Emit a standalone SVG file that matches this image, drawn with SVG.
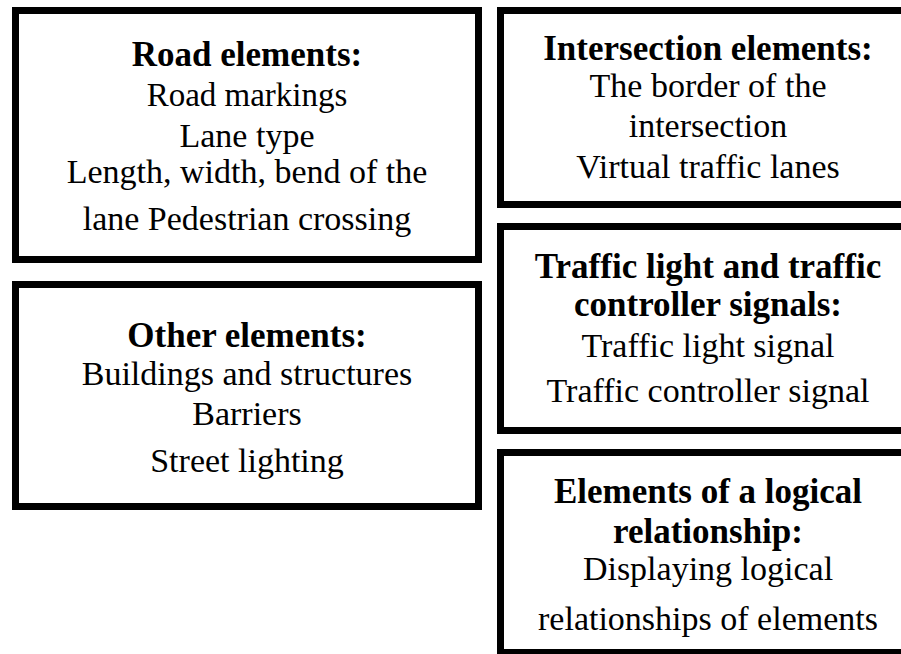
<svg xmlns="http://www.w3.org/2000/svg" width="901" height="654" viewBox="0 0 901 654">
  <style>
    .box { fill: #ffffff; stroke: #000000; stroke-width: 7; }
    text { font-family: "Liberation Serif", "Times New Roman", serif; font-size: 34px; fill: #000000; text-anchor: middle; }
    .title { font-weight: bold; font-size: 35px; }
    .tight { font-size: 33px; }
  </style>
  <rect width="901" height="654" fill="#ffffff"/>

  <g id="road-elements">
    <rect class="box" x="15.5" y="10.5" width="463" height="249"/>
    <text class="title" x="247" y="66">Road elements:</text>
    <text class="tight" x="247" y="106">Road markings</text>
    <text x="247" y="147">Lane type</text>
    <text x="247" y="183">Length, width, bend of the</text>
    <text x="247" y="230">lane Pedestrian crossing</text>
  </g>

  <g id="other-elements">
    <rect class="box" x="15.5" y="284.5" width="463" height="222"/>
    <text class="title" x="247" y="347">Other elements:</text>
    <text x="247" y="385">Buildings and structures</text>
    <text x="247" y="425">Barriers</text>
    <text x="247" y="472">Street lighting</text>
  </g>

  <g id="intersection-elements">
    <rect class="box" x="500.5" y="10.5" width="420" height="194"/>
    <text class="title" x="708" y="60">Intersection elements:</text>
    <text x="708" y="97">The border of the</text>
    <text x="708" y="137">intersection</text>
    <text x="708" y="178">Virtual traffic lanes</text>
  </g>

  <g id="signal-elements">
    <rect class="box" x="500.5" y="226.5" width="420" height="204"/>
    <text class="title" x="708" y="278">Traffic light and traffic</text>
    <text class="title" x="708" y="316">controller signals:</text>
    <text x="708" y="357">Traffic light signal</text>
    <text x="708" y="402">Traffic controller signal</text>
  </g>

  <g id="logical-elements">
    <rect class="box" x="500.5" y="452.5" width="420" height="200"/>
    <text class="title" x="708" y="503">Elements of a logical</text>
    <text class="title" x="708" y="543">relationship:</text>
    <text x="708" y="580">Displaying logical</text>
    <text x="708" y="630">relationships of elements</text>
  </g>

  <g id="connectors"></g>
</svg>
